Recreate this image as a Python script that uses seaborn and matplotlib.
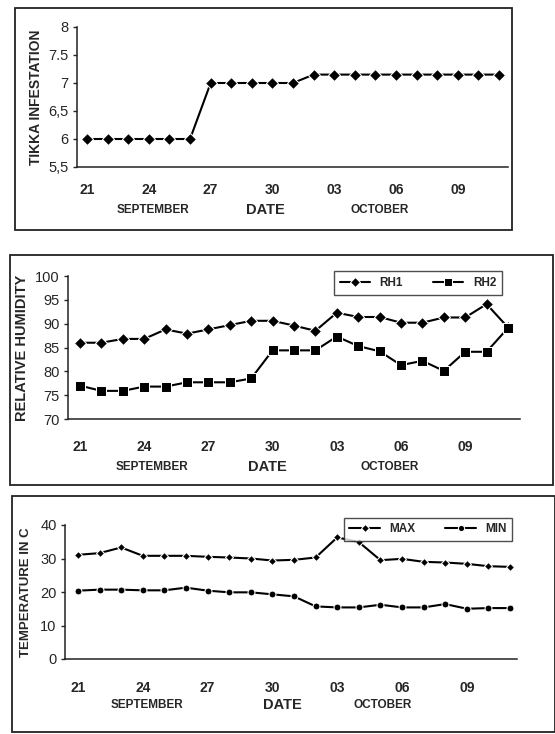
import numpy as np
import pandas as pd
import matplotlib
matplotlib.use('Agg')
import matplotlib.pyplot as plt
import seaborn as sns
from matplotlib.patches import Rectangle

# data: 21 Sep .. 11 Oct (21 days)
days = list(range(21))
tick_pos = [0, 3, 6, 9, 12, 15, 18]
tick_labels = ['21', '24', '27', '30', '03', '06', '09']

tikka = [6, 6, 6, 6, 6, 6, 7, 7, 7, 7, 7,
         7.15, 7.15, 7.15, 7.15, 7.15, 7.15, 7.15, 7.15, 7.15, 7.15]

rh1 = [86, 86, 86.8, 86.8, 88.8, 87.9, 88.8, 89.7, 90.6, 90.6, 89.6,
       88.5, 92.3, 91.4, 91.4, 90.2, 90.2, 91.3, 91.3, 94.1, 89.2]
rh2 = [77, 75.9, 75.9, 76.8, 76.8, 77.7, 77.7, 77.7, 78.5, 84.4, 84.4,
       84.4, 87.3, 85.3, 84.2, 81.3, 82.2, 80.1, 84.1, 84.1, 89.1]

tmax = [31.1, 31.6, 33.3, 30.8, 30.8, 30.8, 30.5, 30.3, 30.0, 29.4, 29.6,
        30.3, 36.3, 34.9, 29.5, 29.9, 29.0, 28.8, 28.4, 27.7, 27.5]
tmin = [20.4, 20.7, 20.7, 20.5, 20.5, 21.3, 20.4, 19.9, 19.9, 19.3, 18.7,
        15.7, 15.4, 15.4, 16.2, 15.4, 15.4, 16.4, 15.0, 15.2, 15.2]

sns.set_style('white')
plt.rcParams['font.family'] = ['Liberation Sans', 'DejaVu Sans']

W, H = 555, 734
fig = plt.figure(figsize=(W / 100, H / 100), dpi=100)


def px_axes(left, right, top, bottom):
    return fig.add_axes([left / W, 1 - bottom / H, (right - left) / W, (bottom - top) / H])


def frame(left, right, top, bottom):
    fig.patches.append(Rectangle((left / W, 1 - bottom / H), (right - left) / W, (bottom - top) / H,
                                 transform=fig.transFigure, fill=False, edgecolor='#222222', lw=1.3))


def style_axes(ax, pad):
    sns.despine(ax=ax)
    ax.spines['left'].set_color('#222222')
    ax.spines['bottom'].set_color('#222222')
    ax.spines['left'].set_linewidth(1.1)
    ax.spines['bottom'].set_linewidth(1.1)
    ax.set_xticks(tick_pos)
    ax.set_xticklabels(tick_labels, fontsize=10, fontweight='bold')
    ax.tick_params(axis='x', length=0, pad=pad)
    ax.tick_params(axis='y', left=True, length=3, width=1, labelsize=10.5, pad=3)
    ax.set_xlabel('')


def month_labels(y, xs):
    fig.text(xs[0] / W, 1 - y / H, 'SEPTEMBER', ha='center', va='center', fontsize=8.5, fontweight='bold')
    fig.text(xs[1] / W, 1 - y / H, 'DATE', ha='center', va='center', fontsize=10.5, fontweight='bold')
    fig.text(xs[2] / W, 1 - y / H, 'OCTOBER', ha='center', va='center', fontsize=8.5, fontweight='bold')


# ---- panel 1 ----
frame(15, 512, 8, 230)
ax1 = px_axes(77, 508, 27, 167)
sns.lineplot(x=days, y=tikka, marker='D', markersize=6, color='black', lw=1.5, ax=ax1)
ax1.set_xlim(-0.49, 20.44)
ax1.set_ylim(5.5, 8)
ax1.set_yticks([5.5, 6, 6.5, 7, 7.5, 8])
ax1.set_yticklabels(['5,5', '6', '6,5', '7', '7.5', '8'])
style_axes(ax1, 11.5)
ax1.set_ylabel('TIKKA INFESTATION', fontsize=10, fontweight='bold', labelpad=4)
month_labels(210, (153, 265, 380))

# ---- panel 2 ----
frame(10, 553, 255, 485)
ax2 = px_axes(68, 520, 276, 419)
sns.lineplot(x=days, y=rh1, marker='D', markersize=6, color='black', lw=1.5, ax=ax2, label='RH1')
sns.lineplot(x=days, y=rh2, marker='s', markersize=7, color='black', lw=1.5, ax=ax2, label='RH2')
ax2.set_xlim(-0.56, 20.56)
ax2.set_ylim(70, 100)
ax2.set_yticks(range(70, 101, 5))
style_axes(ax2, 15)
ax2.set_ylabel('RELATIVE HUMIDITY', fontsize=10.5, fontweight='bold', labelpad=4)
ax2.legend(loc='upper right', bbox_to_anchor=(508 / W, 1 - 265 / H), bbox_transform=fig.transFigure,
           ncol=2, frameon=True, fancybox=False, edgecolor='#222222',
           handlelength=2.6, columnspacing=2.5, borderpad=0.5, markerscale=0.8,
           prop={'weight': 'bold', 'size': 8.5})
month_labels(467, (152, 267, 390))

# ---- panel 3 ----
frame(12, 555, 496, 732)
ax3 = px_axes(65, 517, 525, 659)
sns.lineplot(x=days, y=tmax, marker='D', markersize=4, color='black', lw=1.5, ax=ax3, label='MAX')
sns.lineplot(x=days, y=tmin, marker='o', markersize=5, color='black', lw=1.5, ax=ax3, label='MIN')
ax3.set_xlim(-0.6, 20.32)
ax3.set_ylim(0, 40)
ax3.set_yticks(range(0, 41, 10))
style_axes(ax3, 16)
ax3.set_ylabel('TEMPERATURE IN C', fontsize=9.5, fontweight='bold', labelpad=6)
ax3.legend(loc='upper right', bbox_to_anchor=(518 / W, 1 - 512 / H), bbox_transform=fig.transFigure,
           ncol=2, frameon=True, fancybox=False, edgecolor='#222222',
           handlelength=2.6, columnspacing=2.5, borderpad=0.45, markerscale=0.9,
           prop={'weight': 'bold', 'size': 8.5})
month_labels(705, (147, 282, 383))

fig.savefig('out.png', dpi=100)
